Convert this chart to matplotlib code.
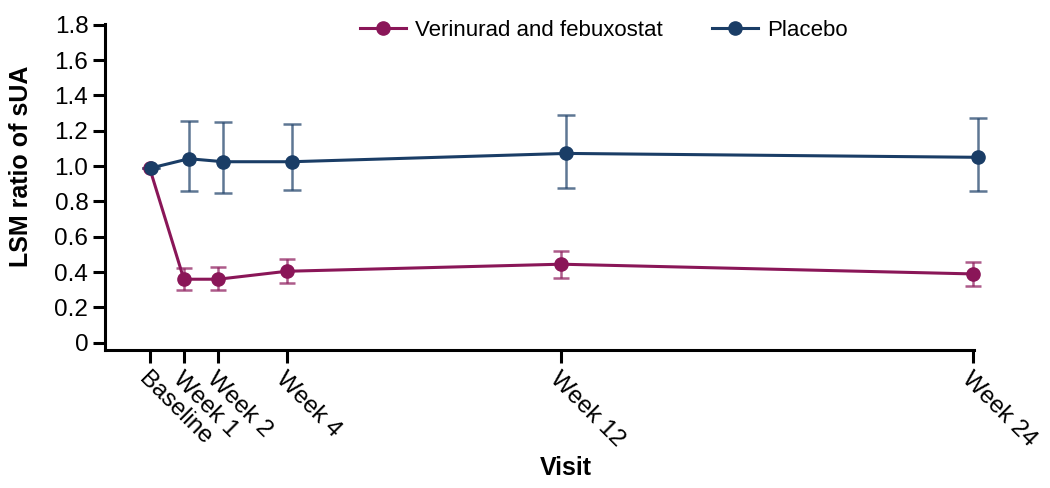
import numpy as np
import matplotlib
matplotlib.use("Agg")
from matplotlib import pyplot as plt
from matplotlib import transforms

plt.rcParams["font.family"] = ["Liberation Sans", "DejaVu Sans"]

# visit positions in weeks, with their labels
weeks = [0, 1, 2, 4, 12, 24]
visit_labels = ["Baseline", "Week 1", "Week 2", "Week 4", "Week 12", "Week 24"]

# LSM ratio of sUA and 95% CI bounds
ver_mean = [0.99, 0.36, 0.36, 0.405, 0.445, 0.39]
ver_low = [0.99, 0.297, 0.297, 0.339, 0.368, 0.324]
ver_high = [0.99, 0.424, 0.43, 0.477, 0.518, 0.456]

pla_mean = [0.99, 1.042, 1.025, 1.025, 1.072, 1.05]
pla_low = [0.99, 0.857, 0.848, 0.864, 0.877, 0.861]
pla_high = [0.99, 1.253, 1.248, 1.239, 1.291, 1.273]

ver_color = "#8a1658"
pla_color = "#1a3d66"


def plot_series(ax, x, mean, low, high, color, label, capsize):
    mean = np.array(mean)
    yerr = [mean - np.array(low), np.array(high) - mean]
    eb = ax.errorbar(x, mean, yerr=yerr, fmt="none", ecolor=color, alpha=0.7,
                     elinewidth=1.8, capsize=capsize, capthick=1.8, zorder=2)
    for art in eb.get_children():
        art.set_clip_on(False)
    ax.plot(x, mean, color=color, lw=2.2, marker="o", ms=9.5, label=label,
            zorder=3, clip_on=False)


fig = plt.figure(figsize=(10.5, 4.88), dpi=100)
ax = fig.add_axes([0.1, 0.283, 0.828, 0.668])

x = np.array(weeks, dtype=float)
pla_x = x + np.array([0.05, 0.15, 0.15, 0.15, 0.15, 0.15])
plot_series(ax, x, ver_mean, ver_low, ver_high, ver_color,
            "Verinurad and febuxostat", 5.5)
plot_series(ax, pla_x, pla_mean, pla_low, pla_high, pla_color, "Placebo", 6.5)

ax.set_xlim(-1.3, 24.05)
ax.set_ylim(-0.04, 1.805)
ax.set_yticks(np.arange(0, 1.81, 0.2))
ax.set_yticklabels(["0"] + [f"{v:.1f}" for v in np.arange(0.2, 1.81, 0.2)])
ax.set_xticks(weeks)
ax.set_xticklabels(visit_labels, rotation=-45, ha="left", va="top",
                   rotation_mode="anchor")
offset = transforms.ScaledTranslation(-13 / 100, 0, fig.dpi_scale_trans)
for lab in ax.get_xticklabels():
    lab.set_transform(lab.get_transform() + offset)

for side in ["top", "right"]:
    ax.spines[side].set_visible(False)
for side in ["left", "bottom"]:
    ax.spines[side].set_linewidth(2.2)
ax.tick_params(axis="both", direction="out", length=9, width=2.2,
               labelsize=17.5, colors="black")
ax.tick_params(axis="x", pad=4)
ax.tick_params(axis="y", pad=3)

fig.text(21 / 1050, 1 - 166 / 488, "LSM ratio of sUA", rotation=90,
         ha="center", va="center", fontsize=18, fontweight="bold")
fig.text(566 / 1050, 1 - 468 / 488, "Visit", ha="center", va="center",
         fontsize=18, fontweight="bold")

fig.legend(loc="center", bbox_to_anchor=(0.575, 0.9385), ncol=2, frameon=False,
           fontsize=16, handlelength=2.1, columnspacing=2.2, handletextpad=0.4)

fig.savefig("out.png", dpi=100)
